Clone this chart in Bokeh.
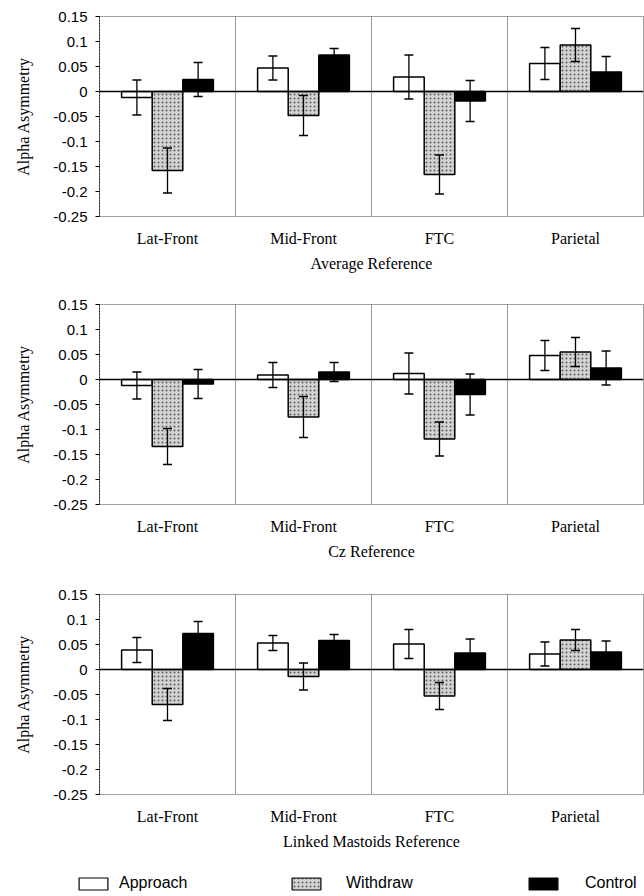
from bokeh.plotting import figure
from bokeh.models import (FactorRange, Range1d, Span, Whisker, TeeHead, ColumnDataSource,
                          CustomJSTickFormatter, FixedTicker, Legend, LegendItem)
from bokeh.transform import dodge
from bokeh.layouts import column
from bokeh.embed import file_html
from bokeh.resources import INLINE

# ---------------- data ----------------
cats = ["Lat-Front", "Mid-Front", "FTC", "Parietal"]
series = ["Approach", "Withdraw", "Control"]
y_ticks = [-0.25, -0.2, -0.15, -0.1, -0.05, 0, 0.05, 0.1, 0.15]
y_label = "Alpha Asymmetry"

avg_title = "Average Reference"
avg_approach = [-0.012, 0.047, 0.029, 0.056]
avg_approach_err = [0.035, 0.024, 0.044, 0.032]
avg_withdraw = [-0.158, -0.048, -0.166, 0.093]
avg_withdraw_err = [0.045, 0.040, 0.039, 0.033]
avg_control = [0.024, 0.073, -0.019, 0.039]
avg_control_err = [0.034, 0.013, 0.041, 0.031]

cz_title = "Cz Reference"
cz_approach = [-0.012, 0.009, 0.012, 0.048]
cz_approach_err = [0.027, 0.025, 0.041, 0.030]
cz_withdraw = [-0.134, -0.075, -0.119, 0.055]
cz_withdraw_err = [0.036, 0.041, 0.034, 0.029]
cz_control = [-0.009, 0.015, -0.030, 0.023]
cz_control_err = [0.029, 0.019, 0.041, 0.034]

lm_title = "Linked Mastoids Reference"
lm_approach = [0.039, 0.053, 0.051, 0.031]
lm_approach_err = [0.025, 0.015, 0.029, 0.024]
lm_withdraw = [-0.070, -0.014, -0.053, 0.059]
lm_withdraw_err = [0.032, 0.027, 0.027, 0.021]
lm_control = [0.072, 0.058, 0.033, 0.035]
lm_control_err = [0.024, 0.012, 0.028, 0.022]

# ---------------- styles ----------------
BAR_W = 0.225
OFFSETS = [-0.225, 0.0, 0.225]
STYLES = [
    dict(fill_color="white"),
    dict(fill_color="#d3d3d3", hatch_pattern="dot", hatch_color="#5e5e5e",
         hatch_scale=4, hatch_weight=1),
    dict(fill_color="black"),
]
SERIF = "Liberation Serif"
SANS = "Liberation Sans"
FRAME_LEFT = 99
FRAME_H = 200


def make_panel(title, vals_list, errs_list, height, top_border=16):
    p = figure(x_range=FactorRange(factors=cats, range_padding=0),
               y_range=Range1d(y_ticks[0], y_ticks[-1]),
               width=644, height=height, output_backend="svg", toolbar_location=None,
               min_border_left=FRAME_LEFT, min_border_right=1, min_border_top=top_border,
               min_border_bottom=height - top_border - FRAME_H)
    p.xgrid.visible = False
    p.ygrid.visible = False
    p.outline_line_color = "#444444"
    p.outline_line_dash = "1 1"
    p.outline_line_width = 1

    for b in range(1, len(cats)):
        p.add_layout(Span(location=b, dimension="height", line_color="#333333",
                          line_dash="1 1", line_width=1))

    for vals, errs, off, st in zip(vals_list, errs_list, OFFSETS, STYLES):
        src = ColumnDataSource(dict(
            cat=cats, top=vals,
            upper=[v + e for v, e in zip(vals, errs)],
            lower=[v - e for v, e in zip(vals, errs)]))
        p.vbar(x=dodge("cat", off, range=p.x_range), top="top", bottom=0, width=BAR_W,
               source=src, line_color="black", line_width=1.5, **st)
        w = Whisker(source=src, base=dodge("cat", off, range=p.x_range),
                    upper="upper", lower="lower", dimension="height",
                    line_color="black", line_width=1.3, level="annotation",
                    upper_head=TeeHead(size=9, line_color="black", line_width=1.3),
                    lower_head=TeeHead(size=9, line_color="black", line_width=1.3))
        p.add_layout(w)

    p.add_layout(Span(location=0, dimension="width", line_color="black", line_width=1.5))

    ya = p.yaxis[0]
    ya.ticker = FixedTicker(ticks=y_ticks)
    ya.formatter = CustomJSTickFormatter(code="return String(Math.round(tick*100)/100);")
    ya.minor_tick_line_color = None
    ya.major_tick_in = 0
    ya.major_tick_out = 4
    ya.major_tick_line_color = "black"
    ya.axis_line_color = "#222222"
    ya.axis_line_dash = "2 1"
    ya.major_label_standoff = 8
    ya.major_label_text_font = SANS
    ya.major_label_text_font_size = "15px"
    ya.major_label_text_color = "black"
    ya.axis_label = y_label
    ya.axis_label_text_font = SERIF
    ya.axis_label_text_font_style = "normal"
    ya.axis_label_text_font_size = "16px"
    ya.axis_label_text_color = "black"
    ya.axis_label_standoff = 18

    xa = p.xaxis[0]
    xa.axis_line_color = None
    xa.major_tick_line_color = None
    xa.major_tick_out = 0
    xa.major_tick_in = 0
    xa.minor_tick_line_color = None
    xa.major_label_standoff = 13
    xa.major_label_text_font = SERIF
    xa.major_label_text_font_size = "16px"
    xa.major_label_text_color = "black"
    xa.axis_label = title
    xa.axis_label_text_font = SERIF
    xa.axis_label_text_font_style = "normal"
    xa.axis_label_text_font_size = "16px"
    xa.axis_label_text_color = "black"
    xa.axis_label_standoff = 5
    return p


p1 = make_panel(avg_title, [avg_approach, avg_withdraw, avg_control],
                [avg_approach_err, avg_withdraw_err, avg_control_err], 288)
p2 = make_panel(cz_title, [cz_approach, cz_withdraw, cz_control],
                [cz_approach_err, cz_withdraw_err, cz_control_err], 290)
p3 = make_panel(lm_title, [lm_approach, lm_withdraw, lm_control],
                [lm_approach_err, lm_withdraw_err, lm_control_err], 288)

# ---------------- legend strip ----------------
pl = figure(width=644, height=30, output_backend="svg", toolbar_location=None,
            x_range=Range1d(0, 1), y_range=Range1d(0, 1),
            x_axis_location=None, y_axis_location=None,
            min_border_left=0, min_border_right=0, min_border_top=0, min_border_bottom=0)
pl.grid.visible = False
pl.outline_line_color = None

leg_pos = [(75, 8), (288, 22), (525, 24)]
for name, st, (lx, stand) in zip(series, STYLES, leg_pos):
    # zero-height dummy bar: only used as the legend swatch
    r = pl.vbar(x=[0.5], top=[0.0], bottom=[0.0], width=0.0, line_color="black",
                line_width=1.2, **st)
    lg = Legend(items=[LegendItem(label=name, renderers=[r])], location=(lx, 4),
                orientation="horizontal", padding=0, margin=0, border_line_color=None,
                background_fill_alpha=0, glyph_width=36, glyph_height=15,
                label_height=15, label_standoff=stand, label_text_font=SANS,
                label_text_font_size="16px", label_text_color="black")
    pl.add_layout(lg)

layout = column(column(p1, p2, p3, spacing=0), pl, spacing=0)
open("out.html", "w").write(file_html(layout, INLINE))
